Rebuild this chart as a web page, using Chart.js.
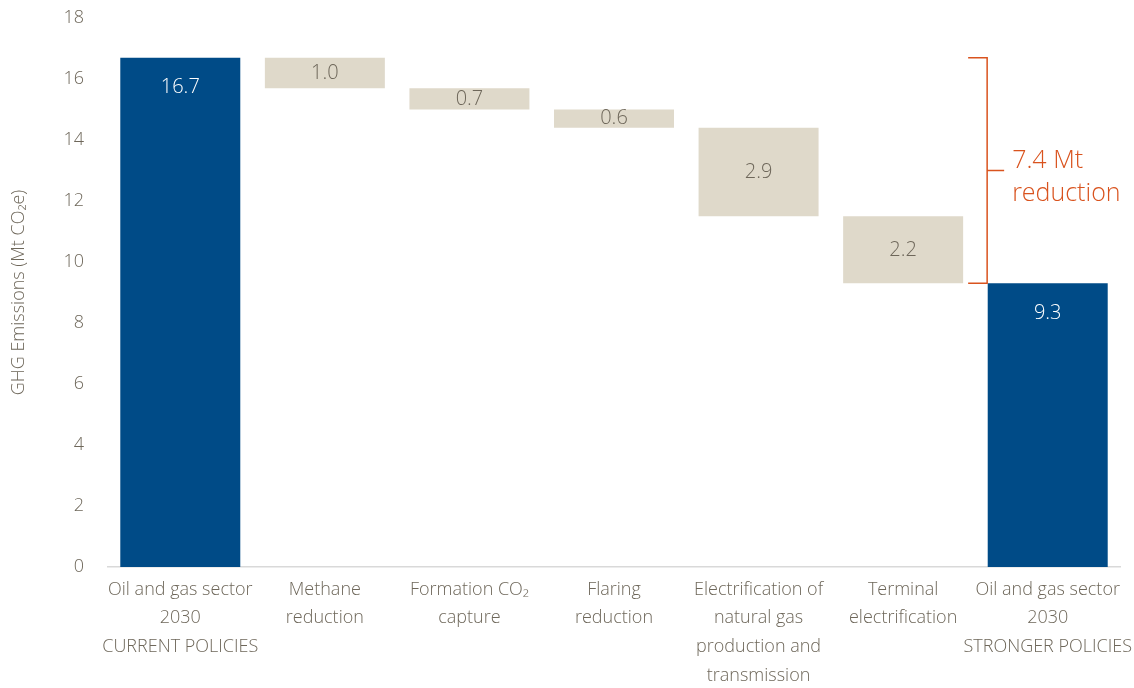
<!DOCTYPE html>
<html><head><meta charset="utf-8">
<script src="https://cdn.jsdelivr.net/npm/chart.js@4.4.0/dist/chart.umd.min.js"></script>
<style>html,body{margin:0;padding:0;background:#fff}#wrap{width:1134px;height:688px}</style>
</head><body><div id="wrap"><canvas id="c"></canvas></div>
<script>
const categories = [
  ["Oil and gas sector","2030","CURRENT POLICIES"],
  ["Methane","reduction"],
  ["Formation CO\u2082","capture"],
  ["Flaring","reduction"],
  ["Electrification of","natural gas","production and","transmission"],
  ["Terminal","electrification"],
  ["Oil and gas sector","2030","STRONGER POLICIES"]
];
const startTotal = 16.7;
const reductions = [1.0, 0.7, 0.6, 2.9, 2.2];
const endTotal = 9.3;
const totalReduction = 7.4;
const yTicks = [0,2,4,6,8,10,12,14,16,18];

const FONT = '"Open Sans", sans-serif';
const SZ = 18;
const W = '300';
const BLUE = '#004B87', BEIGE = '#DFD9CA', GREY = '#6E675A', ORANGE = '#D9531E';

const ranges = [[0, startTotal]];
let level = startTotal;
reductions.forEach(r => { ranges.push([+(level - r).toFixed(2), level]); level = +(level - r).toFixed(2); });
ranges.push([0, endTotal]);
const labels = [startTotal, ...reductions, endTotal];
const colors = ranges.map((r,i) => (i===0||i===ranges.length-1) ? BLUE : BEIGE);

const labelPlugin = {
  id:'vals',
  afterDatasetsDraw(chart){
    const {ctx} = chart;
    const meta = chart.getDatasetMeta(0);
    ctx.save();
    ctx.textAlign='center'; ctx.textBaseline='middle';
    ctx.font = W+' 20px ' + FONT;
    meta.data.forEach((bar,i)=>{
      const total = (i===0||i===meta.data.length-1);
      ctx.fillStyle = total ? '#ffffff' : GREY;
      const top = Math.min(bar.y, bar.base), bot = Math.max(bar.y, bar.base);
      const y = total ? top + 30 : (top+bot)/2;
      ctx.fillText(labels[i].toFixed(1), bar.x, y);
    });
    const ys = chart.scales.y;
    const yTop = ys.getPixelForValue(startTotal), yBot = ys.getPixelForValue(endTotal);
    const xs = chart.scales.x;
    const xv = xs.getPixelForValue(5) + 84;
    ctx.strokeStyle = ORANGE; ctx.lineWidth = 1.5;
    ctx.beginPath();
    ctx.moveTo(xv-19, yTop); ctx.lineTo(xv, yTop); ctx.lineTo(xv, yBot); ctx.lineTo(xv-19, yBot);
    const ym = (yTop+yBot)/2;
    ctx.moveTo(xv, ym); ctx.lineTo(xv+17, ym);
    ctx.stroke();
    ctx.fillStyle = ORANGE; ctx.textAlign='left';
    ctx.font = W+' 25px ' + FONT;
    ctx.fillText(totalReduction.toFixed(1) + ' Mt', xv+25, ym-10);
    ctx.fillText('reduction', xv+25, ym+23);
    ctx.restore();
  }
};

new Chart(document.getElementById('c'), {
  type:'bar',
  data:{ labels: categories, datasets:[{ data: ranges, backgroundColor: colors, borderWidth:0, barPercentage:0.83, categoryPercentage:1.0 }]},
  options:{
    responsive:true, maintainAspectRatio:false, animation:false,
    layout:{padding:{top:18,right:14,left:0,bottom:0}},
    plugins:{legend:{display:false}, tooltip:{enabled:false}},
    scales:{
      x:{ grid:{display:false, drawTicks:false}, border:{display:true,color:'#d9d9d9',width:1.5},
          afterFit(s){ s.paddingLeft=0; s.paddingRight=0; s.height=121; },
          ticks:{color:GREY, font:{family:FONT,size:SZ,weight:W,lineHeight:1.6}, padding:8, maxRotation:0, autoSkip:false}},
      y:{ min:0, max:18, grid:{display:false, drawTicks:false}, border:{display:false},
          afterFit(s){ s.width=108; s.paddingTop=0; s.paddingBottom=0; },
          afterBuildTicks(s){ s.ticks = yTicks.map(v=>({value:v})); },
          ticks:{color:GREY, font:{family:FONT,size:SZ,weight:W}, padding:24},
          title:{display:true, text:'GHG Emissions (Mt CO\u2082e)', color:GREY, font:{family:FONT,size:SZ,weight:W}, padding:{top:8,bottom:0}} }
    }
  },
  plugins:[labelPlugin]
});
</script></body></html>
